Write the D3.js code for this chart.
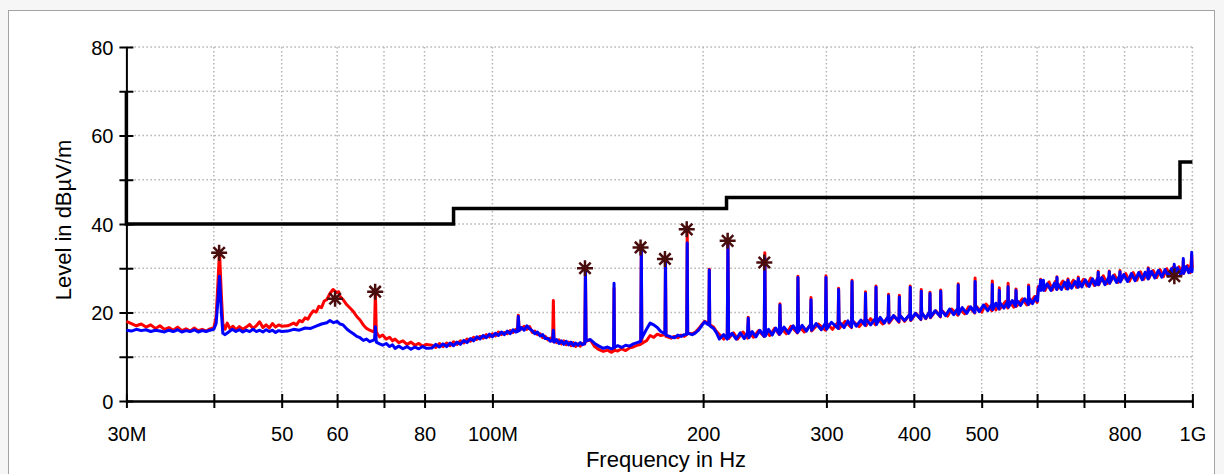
<!DOCTYPE html>
<html>
<head>
<meta charset="utf-8">
<script src="https://cdn.jsdelivr.net/npm/d3@7"></script>
<style>
  body { margin: 0; background: #f6f6f6; }
  text { font-family: "Liberation Sans", Arial, sans-serif; }
</style>
</head>
<body>
<div id="canvas"></div>
<script>
// frequencies in MHz, levels in dBuV/m

const limitFreqs = [30, 30, 88, 88, 216, 216, 960, 960, 1000];
const limitLevels = [70, 40, 40, 43.5, 43.5, 46, 46, 54, 54];

const markFreqs = [40.7, 59.6, 68.0, 135.6, 162.8, 176.4, 189.5, 216.8, 244.6, 942.3];
const markLevels = [33.5, 23.1, 24.7, 30.0, 34.7, 32.1, 38.8, 36.2, 31.3, 28.2];

const xTicks = [30, 40, 50, 60, 70, 80, 100, 200, 300, 400, 500, 600, 700, 800, 1000];
const xTickLabels = ["30M", "", "50", "60", "", "80", "100M", "200", "300", "400", "500", "", "", "800", "1G"];
const gridFreqs = [40, 50, 60, 70, 80, 100, 200, 300, 400, 500, 600, 700, 800, 1000];
const yTicks = [0, 10, 20, 30, 40, 50, 60, 70, 80];

// red trace
const redTrace = [
  [30,18.0],[30.5,17.5],[31,17.0],[31.5,17.4],[32,16.7],[32.5,17.2],[33,16.4],[33.5,17.0],[34,16.2],[34.5,16.6],
  [35,16.0],[35.5,16.7],[36,15.9],[36.5,16.3],[37,15.8],[37.5,16.5],[38,15.9],[38.5,16.2],[39,15.8],[39.5,16.3],
  [40,16.6],[40.3,19.0],[40.55,27.0],[40.75,33.8],[41.0,24.0],[41.2,17.5],[41.5,16.2],[41.8,17.6],[42.2,16.3],[42.6,16.9],
  [43,16.1],[43.5,16.8],[44,16.2],[44.5,16.7],[45,17.3],[45.5,16.4],[46,17.0],[46.5,17.9],[47,16.6],[47.5,17.2],
  [48,16.5],[48.5,17.5],[49,16.7],[49.5,17.2],[50,16.9],
  [51,17.0],[52,17.6],[52.5,17.2],[53,18.2],[53.5,17.9],[54,18.8],[54.5,18.5],[55,19.6],[55.5,20.4],[56,20.1],
  [56.5,21.4],[57,21.1],[57.5,22.6],[58,22.9],[58.6,24.3],[59.2,25.2],[59.9,24.5],[60.3,24.7],[60.6,23.6],[61.2,22.9],
  [61.9,21.8],[62.6,21.0],[63.3,20.2],[64,19.1],[64.7,18.3],[65.4,17.2],[66.1,16.4],[66.8,16.0],[67.5,15.7],[67.85,16.0],
  [68.05,25.0],[68.25,15.6],[68.6,15.0],[69,14.5],[69.7,14.9],[70.5,14.0],[71.3,14.4],[72,13.6],[72.6,14.0],[73.5,13.2],
  [74.5,13.6],[75.5,12.8],[76.5,13.3],[77.5,12.6],[78.5,13.0],[79.5,12.4],[80.5,12.8],
  [82,12.6],[83,12.1],[84,13.0],[85,12.3],[86,13.1],[87,12.5],[88,13.4],[89,12.8],[90,13.6],[91,13.1],
  [92,14.0],[93,13.5],[94,14.4],[95,13.9],[96,14.6],[97,14.2],[98,15.0],[99,14.5],[100,15.2],[101,14.7],
  [102,15.6],[103,15.0],[104,15.5],[105,15.2],[106,15.9],[107,15.5],[108,16.2],[108.6,16.2],[108.9,19.4],[109.2,16.0],
  [110,16.3],[111,16.9],[112,16.2],[113,16.8],[114,15.5],[115,15.8],[116,15.0],[117,15.2],[118,14.3],[119,14.6],
  [120,13.8],[121,14.2],[121.9,13.5],[122.2,22.7],[122.5,13.6],[123.5,13.2],[124.5,13.8],[125.5,12.9],[126.5,13.6],[127.5,12.7],
  [128.5,13.3],[129.5,12.5],[130.5,13.2],[131.5,12.3],[132.5,12.9],[133.5,12.4],[134.5,13.0],[135.5,12.9],[135.8,30.2],[136.1,13.5],
  [138,13.8],[140,12.3],[142,11.6],[144,11.2],[146,11.5],
  [148,11.0],[149.0,11.3],[149.2,25.5],[149.4,11.5],[151,11.3],[153,11.8],[155,11.4],[157,12.0],[159,12.2],[161,12.6],
  [162.9,12.8],[163.2,35.0],[163.5,13.0],[166,13.6],[168,14.8],[170,14.4],[172,15.1],[174,14.8],[176.4,15.0],[176.7,32.3],
  [177,14.6],[180,14.2],[182,14.6],[184,14.3],[186,14.9],[188,14.6],[189.5,15.0],[189.8,39.0],[190.1,15.3],[193,15.2],
  [195,15.6],[197,16.3],[199,17.2],[201,18.0],[203,17.6],[203.8,17.5],[204.1,29.8],[204.4,17.2],[207,16.7],[209,15.7],
  [211,15.0],[214,14.0],[216.5,15.0],[217.0,36.2],[217.5,14.1],[221,15.4],[224,14.0],[228,15.6],[231.5,14.2],[232.0,18.9],
  [232.5,15.6],[236,14.4],[240,15.9],[244.5,14.6],[245.0,33.5],[245.5,16.1],[249,14.8],[253,16.4],[257.0,15.0],[257.5,22.0],
  [258.0,16.6],[263,15.2],[267,16.9],[272.7,15.4],[273.2,28.2],[273.7,17.0],[279,15.6],[284.7,17.2],[285.2,23.4],[285.7,15.8],
  [292,17.4],[299.1,16.0],[299.6,28.3],[300.1,17.6],[306,16.2],[311.8,17.8],[312.3,25.5],[312.8,16.4],[319,18.0],[325.9,16.6],
  [326.4,27.3],[326.9,18.1],[334,16.8],[340.7,18.4],[341.2,24.7],[341.7,17.0],[347,18.6],[352.7,17.2],[353.2,26.0],[353.7,18.8],
  [361,17.4],[367.6,19.0],[368.1,24.1],[368.6,17.6],[375,19.2],[380.9,17.8],[381.4,23.9],[381.9,19.4],[388,18.0],[394.8,19.6],
  [395.3,26.0],[395.8,18.2],[403,19.8],[409.4,18.4],[409.9,25.2],[410.4,20.0],[416,18.6],[421.3,20.2],[421.8,24.6],[422.3,18.8],
  [430,20.4],[436.5,19.0],[437.0,25.1],[437.5,20.6],[447,19.2],[453,20.8],[462.4,19.4],[462.9,26.5],[463.4,21.0],[473,19.7],
  [479,21.3],[488.8,19.9],[489.3,27.8],[489.8,21.6],[500,20.1],[507,21.9],[517.3,20.4],[517.8,27.1],[518.3,22.1],[524,20.6],
  [529.4,22.3],[529.9,25.6],[530.4,20.8],[541,22.5],[544.8,21.0],[545.4,26.6],[546,22.7],[556,21.2],[559.2,22.9],[559.8,25.3],
  [560.4,21.4],[572,23.1],[580,21.7],[583.0,23.3],[583.5,26.2],[584,21.9],[595,23.6],[600,22.3],[602,25.8],
  [606.3,25.2],[606.9,27.5],[607.5,26.7],[616,25.0],[624,26.9],[631,25.1],[637,27.0],[640.0,25.4],[640.5,28.1],[641,25.3],
  [653,27.1],[660,25.4],[663.6,27.2],[664.2,27.6],[664.8,25.5],[676,27.3],[683,25.7],[686.5,27.3],[687.1,28.0],[687.7,25.8],
  [699,27.5],[707,26.0],[716,27.8],[724,26.1],[733.0,28.0],[733.6,29.3],[734.2,26.2],[746,28.3],[755,26.5],[760.2,28.3],
  [760.8,29.4],[761.4,26.6],[774,28.5],[783,26.8],[787.5,28.5],[788.1,29.5],[788.7,27.0],[803,28.8],[813,27.1],[823,29.0],
  [833,27.3],[843,29.2],[852,27.5],[864.3,29.3],[864.9,30.1],[865.5,27.6],[879,29.5],[889,27.9],[899,29.7],[909,28.1],
  [919,29.9],[929,28.3],[937,30.1],[942.0,30.4],[947,28.5],[957,30.3],[965,28.7],[969.9,30.6],[970.5,31.6],[971.1,28.8],
  [984,30.6],[993,29.0],[997.7,33.0],[1000,30.0]
];

// blue trace
const blueTrace = [
  [30,16.0],[30.5,15.8],[31,16.2],[31.5,15.9],[32,16.1],[32.5,15.7],[33,16.0],[33.5,15.8],[34,15.6],[34.5,16.0],
  [35,15.7],[35.5,16.1],[36,15.6],[36.5,15.9],[37,15.7],[37.5,16.1],[38,15.6],[38.5,15.9],[39,15.7],[39.5,16.0],
  [40,16.2],[40.3,17.5],[40.55,23.0],[40.75,28.2],[41.0,20.0],[41.2,15.3],[41.5,15.0],[42,15.6],[42.5,16.2],[43,15.7],
  [43.5,16.1],[44,15.6],[44.5,16.0],[45,15.7],[45.5,16.2],[46,15.7],[46.5,16.0],[47,15.6],[47.5,16.1],[48,15.7],
  [48.5,16.0],[49,15.5],[49.5,15.9],[50,15.7],
  [51,15.8],[52,16.2],[53,16.0],[54,16.5],[55,16.4],[56,16.9],[57,17.4],[58,17.7],[58.6,18.2],[59.3,17.7],
  [60,18.0],[60.6,17.4],[61.2,17.2],[62,16.2],[62.6,15.7],[63.3,15.2],[64,14.6],[64.7,14.3],[65.4,13.7],[66.1,14.0],
  [66.8,13.4],[67.5,13.7],[67.85,13.9],[68.05,16.8],[68.25,13.3],[69,12.9],[69.7,12.6],[70.5,13.0],[71.3,12.3],[72,12.7],
  [72.6,11.9],[73.5,12.4],[74.5,11.8],[75.5,12.3],[76.5,11.7],[77.5,12.2],[78.5,11.8],[79.5,12.3],[80.5,11.9],
  [82,12.0],[83,12.8],[84,12.2],[85,12.9],[86,12.3],[87,13.1],[88,12.5],[89,13.3],[90,12.8],[91,13.7],
  [92,13.2],[93,14.1],[94,13.6],[95,14.5],[96,14.0],[97,14.8],[98,14.3],[99,15.1],[100,14.5],[101,15.3],
  [102,14.8],[103,15.6],[104,15.0],[105,15.8],[106,15.2],[107,16.1],[108,15.6],[108.6,15.7],[108.9,19.1],[109.2,15.9],
  [110,16.6],[111,16.0],[112,17.0],[113,16.3],[114,15.9],[115,15.2],[116,15.6],[117,14.7],[118,15.0],[119,14.1],
  [120,14.2],[121,13.5],[121.9,13.8],[122.2,16.0],[122.5,13.3],[123.5,13.9],[124.5,13.0],[125.5,13.6],[126.5,12.8],[127.5,13.5],
  [128.5,12.7],[129.5,13.3],[130.5,12.5],[131.5,13.1],[132.5,12.6],[133.5,13.2],[134.5,12.7],[135.5,13.0],[135.8,30.0],[136.1,13.6],
  [138,13.9],[140,13.0],[142,12.4],[144,11.9],[146,12.2],
  [148,11.8],[149.0,12.0],[149.2,26.6],[149.4,12.1],[151,12.5],[153,12.1],[155,12.6],[157,12.4],[159,12.9],[161,13.2],
  [162.9,13.5],[163.2,34.6],[163.5,14.2],[166,16.2],[168,17.6],[170,17.2],[172,16.6],[174,15.7],[176.4,15.2],[176.7,32.0],
  [177,14.9],[180,14.5],[182,14.3],[184,14.9],[186,14.6],[188,15.0],[189.5,15.1],[189.8,35.7],[190.1,15.3],[193,15.0],
  [195,15.4],[197,16.0],[199,17.0],[201,17.9],[203,17.3],[203.8,17.4],[204.1,29.6],[204.4,17.0],[207,16.4],[209,15.4],
  [211,14.0],[214,15.0],[216.5,14.0],[217.0,35.7],[217.5,14.4],[220,15.3],[223,14.0],[226,15.4],[229,14.1],[231.5,15.5],
  [232.0,18.7],[232.5,14.3],[235,15.7],[238,14.5],[241,16.0],[244.5,14.6],[245.0,32.3],[245.5,14.7],[248,16.2],[251,14.9],
  [254,16.5],[257,15.1],[257.5,21.7],[258,15.3],[261,16.7],[265,15.3],[269,17.0],[272.7,15.5],[273.2,27.9],[273.7,15.7],
  [277,17.1],[281,15.8],[284.7,17.3],[285.2,22.9],[285.7,16.0],[290,17.5],[295,16.1],[299.1,17.6],[299.6,27.9],[300.1,16.2],
  [305,17.8],[311.8,16.4],[312.3,25.2],[312.8,17.9],[318,16.6],[322,18.1],[325.9,16.7],[326.4,27.0],[326.9,18.2],[331,16.9],
  [336,18.3],[340.7,17.1],[341.2,24.3],[341.7,18.5],[347,17.2],[352.7,18.7],[353.2,25.7],[353.7,17.3],[358,18.9],[363,17.6],
  [367.6,19.1],[368.1,23.8],[368.6,17.8],[374,19.3],[380.9,18.0],[381.4,23.5],[381.9,19.4],[388,18.2],[394.8,19.6],[395.3,25.7],
  [395.8,18.3],[402,19.8],[409.4,18.5],[409.9,24.8],[410.4,20.0],[416,18.7],[421.3,20.2],[421.8,24.3],[422.3,18.9],[429,20.4],
  [436.5,19.1],[437.0,24.8],[437.5,20.6],[444,19.3],[450,20.8],[456,19.5],[462.4,21.0],[462.9,26.2],[463.4,19.6],[469,21.1],
  [476,19.8],[482,21.3],[488.8,20.0],[489.3,27.0],[489.8,21.5],[496,20.2],[503,21.7],[510,20.4],[517.3,21.9],[517.8,26.3],
  [518.3,20.6],[524,22.1],[529.4,20.8],[529.9,25.0],[530.4,22.3],[538,21.0],[544.8,22.5],[545.4,25.8],[546,21.2],[553,22.7],
  [559.2,21.4],[559.8,25.0],[560.4,22.9],[568,21.6],[576,23.1],[583,21.8],[583.5,25.8],[584,23.3],[591,22.0],[598,23.6],
  [601,22.6],[602.5,25.3],
  [606.3,26.4],[606.9,27.3],[607.5,25.0],[612,26.4],[612.6,27.3],[613.2,25.0],[620,26.5],[628,25.0],[635,26.6],[640,25.2],
  [640.5,27.9],[641,26.6],[650,25.2],[657,26.8],[663.6,25.3],[664.2,27.3],[664.8,26.9],[672,25.5],[680,27.0],[686.5,25.7],
  [687.1,27.7],[687.7,27.3],[695,25.8],[703,27.4],[712,25.9],[720,27.6],[727,26.2],[733,27.9],[733.6,29.1],[734.2,26.3],
  [742,27.9],[750,26.3],[760.2,28.1],[760.8,29.2],[761.4,26.6],[770,28.3],[779,26.8],[787.5,28.4],[788.1,29.2],[788.7,26.9],
  [798,28.6],[808,27.0],[818,28.8],[828,27.2],[838,29.0],[848,27.4],[856,29.1],[864.3,27.6],[864.9,29.9],[865.5,27.7],
  [874,29.3],[884,27.8],[894,29.5],[904,28.0],[914,29.7],[924,28.2],[933,29.9],[941.4,28.4],[942,30.9],[942.6,28.5],
  [952,30.1],[961,28.6],[969.9,30.3],[970.5,32.2],[971.1,28.8],[980,30.4],[988,29.0],[997.1,30.6],[997.7,33.6],[998.3,29.2],
  [1000,30.0]
];

const canvas = d3.select("#canvas");

const width = 1224;
const height = 474;
const margin = { top: 47, left: 126.4, bottom: 73, right: 31.6 };
const iwidth = width - margin.left - margin.right;
const iheight = height - margin.top - margin.bottom;

const svg = canvas.append("svg")
    .attr("width", width)
    .attr("height", height);

// panel frame
svg.append("rect")
    .attr("x", 8.5).attr("y", 10.5)
    .attr("width", 1206).attr("height", 480)
    .attr("fill", "#fff")
    .attr("stroke", "#a3a3a3");

let g = svg.append("g").attr("transform", `translate(${margin.left},${margin.top})`);

const x = d3.scaleLog()
    .domain([30, 1000])
    .range([0, iwidth]);

const y = d3.scaleLinear()
    .domain([0, 80])
    .range([iheight, 0]);

// dotted grid
g.selectAll(".vgrid").data(gridFreqs).enter().append("line")
    .attr("x1", d => x(d)).attr("x2", d => x(d))
    .attr("y1", 0).attr("y2", iheight)
    .attr("stroke", "#b4b4b4")
    .attr("stroke-width", 1.5)
    .attr("stroke-dasharray", "1.5,2.5");

g.selectAll(".hgrid").data(yTicks.filter(d => d > 0)).enter().append("line")
    .attr("x1", 0).attr("x2", iwidth)
    .attr("y1", d => y(d)).attr("y2", d => y(d))
    .attr("stroke", "#b4b4b4")
    .attr("stroke-width", 1.5)
    .attr("stroke-dasharray", "1.5,2.5");

// axes
const gx = g.append("g")
    .attr("transform", `translate(0, ${iheight})`)
    .call(d3.axisBottom(x)
        .tickValues(xTicks)
        .tickFormat((d, i) => xTickLabels[i])
        .tickSizeOuter(0));
gx.select(".domain").attr("stroke-width", 2.5);
gx.selectAll(".tick line").attr("y1", -7).attr("y2", 7).attr("stroke-width", 2);
gx.selectAll(".tick text").attr("y", 40).attr("dy", 0).attr("font-size", 20).attr("fill", "#000");

const gy = g.append("g")
    .call(d3.axisLeft(y)
        .tickValues(yTicks)
        .tickFormat(d => d % 20 === 0 ? d : "")
        .tickSizeOuter(0));
gy.select(".domain").attr("stroke-width", 2);
gy.selectAll(".tick line").attr("x1", -7).attr("x2", 7).attr("stroke-width", 2);
gy.selectAll(".tick text").attr("x", -13).attr("dy", "0.36em").attr("font-size", 20).attr("fill", "#000");

// traces
const line = d3.line()
    .x(d => x(d[0]))
    .y(d => y(d[1]));

g.append("path")
    .datum(redTrace)
    .attr("d", line)
    .attr("fill", "none")
    .attr("stroke", "#ff0000")
    .attr("stroke-width", 3)
    .attr("stroke-linejoin", "round");

g.append("path")
    .datum(blueTrace)
    .attr("d", line)
    .attr("fill", "none")
    .attr("stroke", "#0000ff")
    .attr("stroke-width", 3)
    .attr("stroke-linejoin", "round");

// limit line
const limit = limitFreqs.map((f, i) => [f, limitLevels[i]]);
g.append("path")
    .datum(limit)
    .attr("d", line)
    .attr("fill", "none")
    .attr("stroke", "#000")
    .attr("stroke-width", 3.5)
    .attr("stroke-linejoin", "miter");

// peak markers
const star = "M-8,0H8M0,-8V8M-5.7,-5.7L5.7,5.7M-5.7,5.7L5.7,-5.7";
g.selectAll(".mark").data(markFreqs).enter().append("path")
    .attr("d", star)
    .attr("transform", (d, i) => `translate(${x(d)},${y(markLevels[i])})`)
    .attr("fill", "none")
    .attr("stroke", "#4a0d0d")
    .attr("stroke-width", 2.5);

// axis titles
svg.append("text")
    .attr("transform", "translate(71,220) rotate(-90)")
    .attr("text-anchor", "middle")
    .attr("font-size", 22)
    .text("Level in dBµV/m");

svg.append("text")
    .attr("x", 666)
    .attr("y", 467)
    .attr("text-anchor", "middle")
    .attr("font-size", 22)
    .text("Frequency in Hz");
</script>
</body>
</html>
